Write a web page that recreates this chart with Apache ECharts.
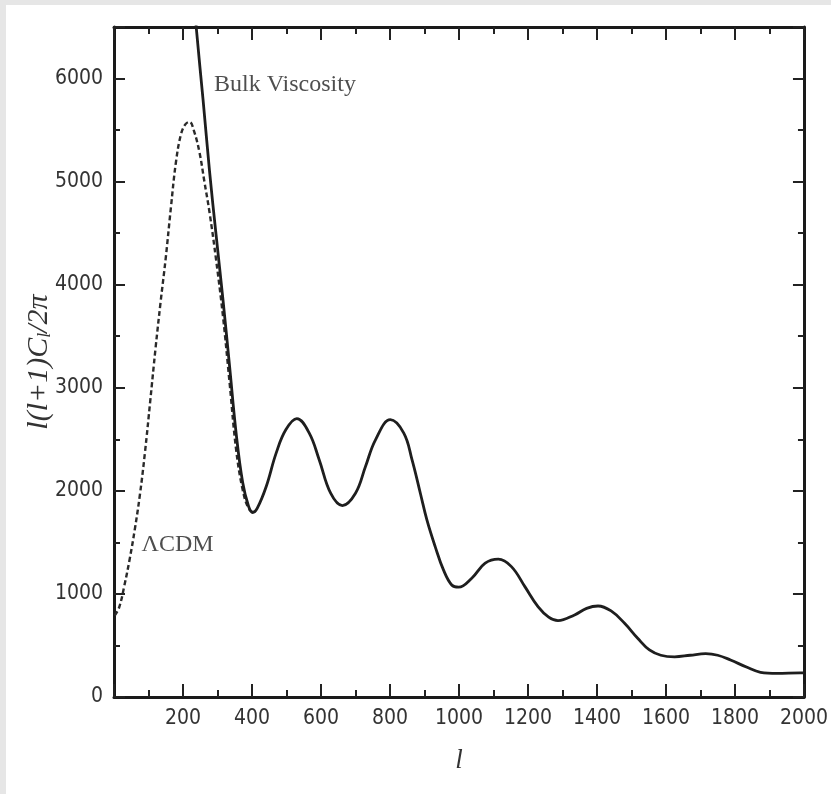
<!DOCTYPE html>
<html>
<head>
<meta charset="utf-8">
<style>
html,body{margin:0;padding:0;background:#e6e6e6;}
#chart{width:831px;height:794px;}
</style>
<script src="https://cdn.jsdelivr.net/npm/echarts@6/dist/echarts.min.js"></script>
</head>
<body>
<div id="chart"></div>
<script>
// Multipole l values and l(l+1)C_l/2pi values
const lcdmL = [2, 15, 30, 45, 60, 75, 90, 105, 120, 135, 150, 165, 180, 195, 208, 219, 232, 248, 262, 277, 296, 316, 335, 354, 373, 390, 404];
const lcdmV = [790, 870, 1080, 1330, 1620, 1960, 2380, 2870, 3370, 3830, 4260, 4750, 5200, 5470, 5560, 5580, 5490, 5280, 5000, 4700, 4240, 3690, 3050, 2400, 2010, 1830, 1790];

const bulkL = [232, 239, 258, 277, 296, 316, 335, 354, 373, 390, 402, 415, 441, 470, 498, 530, 566, 595, 628, 662, 700, 729, 758, 801, 840, 864, 888, 907, 931, 955, 979, 999, 1037, 1076, 1114, 1152, 1191, 1229, 1260, 1287, 1335, 1370, 1403, 1441, 1480, 1518, 1552, 1585, 1625, 1670, 1715, 1750, 1787, 1835, 1874, 1922, 1989, 2000];
const bulkV = [6800, 6475, 5800, 5100, 4480, 3850, 3210, 2560, 2080, 1850, 1790, 1830, 2040, 2366, 2592, 2700, 2560, 2300, 1977, 1857, 1977, 2236, 2495, 2690, 2560, 2300, 1977, 1718, 1459, 1233, 1087, 1065, 1152, 1298, 1337, 1265, 1071, 877, 775, 741, 796, 860, 883, 835, 715, 570, 456, 405, 390, 405, 420, 405, 359, 288, 240, 229, 234, 234];

const xTicks = [0, 200, 400, 600, 800, 1000, 1200, 1400, 1600, 1800, 2000];
const yTicks = [0, 1000, 2000, 3000, 4000, 5000, 6000];

const pair = (xs, ys) => xs.map((x, i) => [x, ys[i]]);

const chart = echarts.init(document.getElementById('chart'));
const labelFont = '"Liberation Sans Narrow", "DejaVu Sans Condensed", "Liberation Sans", sans-serif';
const axisCommon = {
  axisLine: {show: true, onZero: false, lineStyle: {color: '#1a1a1a', width: 3}},
  axisTick: {show: true, inside: true, lineStyle: {color: '#222', width: 2}},
  minorTick: {show: true, splitNumber: 2, lineStyle: {color: '#222', width: 2}},
  splitLine: {show: false}
};
chart.setOption({
  animation: false,
  backgroundColor: 'transparent',
  graphic: [{
    type: 'rect', left: 6, top: 5, z: -10,
    shape: {width: 825, height: 789},
    style: {fill: '#ffffff'}
  }],
  grid: {left: 114, right: 24, top: 27, bottom: 97},
  xAxis: [{
    type: 'value', min: 0, max: 2000, interval: 200, position: 'bottom',
    ...axisCommon,
    axisTick: {...axisCommon.axisTick, length: 13},
    minorTick: {...axisCommon.minorTick, length: 7},
    axisLabel: {
      margin: 11, color: '#333', fontSize: 21, fontFamily: labelFont,
      formatter: v => (v === 0 ? '' : String(v))
    },
    name: 'l', nameLocation: 'middle', nameGap: 50, nameMoveOverlap: false,
    nameTextStyle: {fontFamily: '"Liberation Serif", serif', fontStyle: 'italic', fontSize: 27, color: '#333'}
  }, {
    type: 'value', min: 0, max: 2000, interval: 200, position: 'top',
    ...axisCommon,
    axisTick: {...axisCommon.axisTick, length: 13},
    minorTick: {...axisCommon.minorTick, length: 7},
    axisLabel: {show: false}
  }],
  yAxis: [{
    type: 'value', min: 0, max: 6500, interval: 1000, position: 'left',
    ...axisCommon,
    axisTick: {...axisCommon.axisTick, length: 11},
    minorTick: {...axisCommon.minorTick, length: 6},
    axisLabel: {margin: 11, color: '#333', fontSize: 21, fontFamily: labelFont,
      showMaxLabel: false, formatter: v => String(v)},
    name: '{t|l(l+1)C}{s|l}{t|/2π}', nameLocation: 'middle', nameGap: 60, nameMoveOverlap: false,
    nameTextStyle: {
      rich: {
        t: {fontFamily: '"Liberation Serif", serif', fontStyle: 'italic', fontSize: 30, color: '#333'},
        s: {fontFamily: '"Liberation Serif", serif', fontStyle: 'italic', fontSize: 18, color: '#333', verticalAlign: 'bottom', padding: [10, 0, 0, 0]}
      }
    }
  }, {
    type: 'value', min: 0, max: 6500, interval: 1000, position: 'right',
    ...axisCommon,
    axisTick: {...axisCommon.axisTick, length: 11},
    minorTick: {...axisCommon.minorTick, length: 6},
    axisLabel: {show: false}
  }],
  series: [{
    name: 'ΛCDM', type: 'line', data: pair(lcdmL, lcdmV), smooth: 0.4,
    showSymbol: false, clip: true,
    lineStyle: {color: '#2a2a2a', width: 2.4, type: [5, 3]}
  }, {
    name: 'Bulk Viscosity', type: 'line', data: pair(bulkL, bulkV), smooth: 0.4,
    showSymbol: false, clip: true,
    lineStyle: {color: '#1e1e1e', width: 2.8}
  }, {
    type: 'scatter', silent: true, symbolSize: 0,
    data: [{value: [290, 5940], label: {formatter: 'Bulk Viscosity'}},
           {value: [80, 1480], label: {formatter: 'ΛCDM'}}],
    label: {show: true, position: 'right', distance: 0, color: '#222',
      fontFamily: '"Liberation Serif", serif', fontSize: 24}
  }]
});
</script>
</body>
</html>
